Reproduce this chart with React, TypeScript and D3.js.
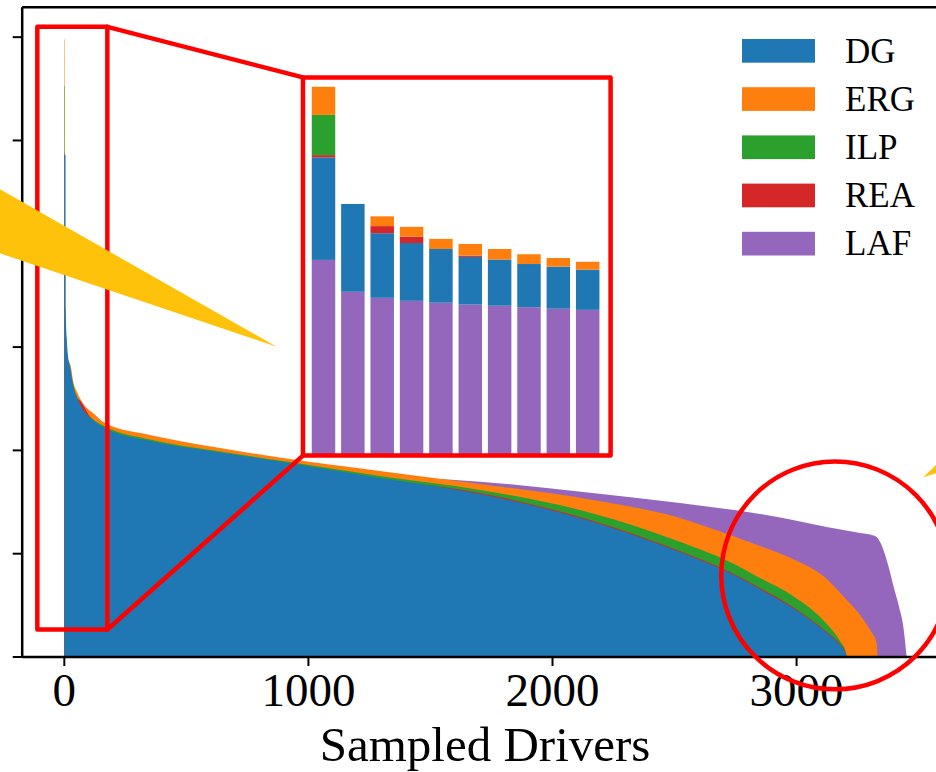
import React from "react";
import * as d3 from "d3";

// series, legend order
const seriesNames = ["DG", "ERG", "ILP", "REA", "LAF"];
const seriesColors = ["#1f77b4", "#ff7f0e", "#2ca02c", "#d62728", "#9467bd"];

// per-driver values sorted high to low, sampled as [driver index, value]
const dgCurve: [number, number][] = [
  [0, 4.86], [5, 4.86], [6, 3.38], [10, 3.09], [14, 2.94], [26, 2.78], [37, 2.61],
  [51, 2.52], [78, 2.39], [119, 2.29], [167, 2.217], [351, 2.091], [626, 1.985],
  [896, 1.888], [1293, 1.733], [1703, 1.578], [2154, 1.317], [2522, 1.016],
  [2727, 0.813], [2850, 0.658], [2985, 0.474], [3124, 0.232], [3178, 0.116],
  [3198, 0.048], [3205, 0],
];
const ergCurve: [number, number][] = [
  [0, 5.98], [2, 5.98], [3, 2.93], [26, 2.82], [37, 2.66], [51, 2.57], [78, 2.45],
  [119, 2.36], [167, 2.265], [351, 2.149], [626, 2.028], [896, 1.926], [1293, 1.801],
  [1703, 1.675], [2154, 1.525], [2522, 1.346], [2727, 1.181], [2850, 1.075],
  [2985, 0.949], [3124, 0.755], [3190, 0.591], [3260, 0.407], [3301, 0.261],
  [3328, 0.136], [3332, 0],
];
const ilpCurve: [number, number][] = [
  [0, 5.53], [2, 5.53], [3, 2.9], [23, 2.76], [51, 2.52], [78, 2.4], [119, 2.3],
  [167, 2.231], [351, 2.105], [626, 1.994], [896, 1.897], [1293, 1.752], [1703, 1.617],
  [2154, 1.397], [2522, 1.116], [2727, 0.92], [2850, 0.765], [2985, 0.591],
  [3124, 0.319], [3178, 0.155], [3202, 0.048], [3206, 0],
];
const reaCurve: [number, number][] = [
  [0, 4.88], [2, 4.88], [3, 2.49], [51, 2.5], [119, 2.28], [167, 2.21], [351, 2.062],
  [896, 1.868], [1293, 1.723], [1703, 1.588], [2154, 1.326], [2522, 1.026],
  [2727, 0.823], [2850, 0.668], [2985, 0.484], [3124, 0.242], [3178, 0.126],
  [3198, 0.058], [3206, 0],
];
const lafCurve: [number, number][] = [
  [0, 2.05], [351, 1.985], [761, 1.888], [1089, 1.815], [1470, 1.733], [1703, 1.697],
  [2154, 1.591], [2522, 1.491], [2850, 1.384], [2985, 1.326], [3123, 1.258],
  [3260, 1.2], [3321, 1.171], [3342, 1.113], [3375, 0.891], [3399, 0.668],
  [3420, 0.484], [3438, 0.281], [3451, 0],
];
const curves = [dgCurve, ergCurve, ilpCurve, reaCurve, lafCurve];

const xTicks = [0, 1000, 2000, 3000];
const yTicks = [0, 1, 2, 3, 4, 5, 6];

// inset: first ten drivers, stacked
const insetDrivers = [0, 1, 2, 3, 4, 5, 6, 7, 8, 9];
const insetLAF = [5.21, 4.36, 4.2, 4.12, 4.07, 4.02, 3.99, 3.95, 3.91, 3.88];
const insetDG = [2.73, 2.34, 1.72, 1.54, 1.43, 1.27, 1.23, 1.15, 1.12, 1.07];
const insetREA = [0.06, 0, 0.19, 0.17, 0, 0.035, 0, 0, 0, 0];
const insetILP = [1.07, 0, 0, 0, 0, 0, 0, 0, 0, 0];
const insetERG = [0.75, 0, 0.26, 0.26, 0.27, 0.31, 0.28, 0.26, 0.23, 0.21];

const W = 936;
const H = 772;
const plot = { left: 22.2, right: 948.8, top: 7.2, bottom: 657 };
const font = "'Liberation Serif', 'DejaVu Serif', serif";
const red = "#ff0000";
const gold = "#ffc20a";

const App = () => {
  const x = d3.scaleLinear().domain([-172.6, 3623.6]).range([plot.left, plot.right]);
  const y = d3.scaleLinear().domain([0, 6.29]).range([plot.bottom, plot.top]);

  const area = d3
    .area<[number, number]>()
    .x((d) => x(d[0]))
    .y0(y(0))
    .y1((d) => y(d[1]))
    .curve(d3.curveMonotoneX);

  // draw back to front: the biggest series sits behind
  const drawOrder = [4, 1, 2, 3, 0];

  // zoom box in data coords, inset box in axes fraction
  const zoomBox = { x0: -110.6, x1: 176.2, y0: 0.266, y1: 6.1 };
  const pw = plot.right - plot.left;
  const ph = plot.bottom - plot.top;
  const inset = {
    left: plot.left + 0.303 * pw,
    right: plot.left + 0.635 * pw,
    top: plot.bottom - 0.892 * ph,
    bottom: plot.bottom - 0.31 * ph,
  };
  const zx0 = x(zoomBox.x0), zx1 = x(zoomBox.x1);
  const zy0 = y(zoomBox.y0), zy1 = y(zoomBox.y1);

  const xi = d3.scaleLinear().domain([-0.7, 9.78]).range([inset.left, inset.right]);
  const yi = d3.scaleLinear().domain([0, 10.07]).range([inset.bottom, inset.top]);
  const insetRows = insetDrivers.map((d, i) => ({
    d,
    LAF: insetLAF[i],
    DG: insetDG[i],
    REA: insetREA[i],
    ILP: insetILP[i],
    ERG: insetERG[i],
  }));
  const stackKeys = ["LAF", "DG", "REA", "ILP", "ERG"];
  const stacked = d3.stack<any>().keys(stackKeys)(insetRows);
  const barW = xi(0.8) - xi(0);

  // circle around the tail
  const circ = { cx: x(3158), cy: y(0.79), r: 113.9 };

  return (
    <svg
      width={W}
      height={H}
      style={{ position: "absolute", left: 0, top: 0, background: "#fff" }}
      fontFamily={font}
    >
      <rect x={0} y={0} width={W} height={H} fill="#fff" />
      {drawOrder.map((k) => (
        <path key={seriesNames[k]} d={area(curves[k]) || ""} fill={seriesColors[k]} />
      ))}

      {/* axes */}
      <line x1={plot.left} x2={plot.left} y1={plot.top} y2={plot.bottom} stroke="#000" strokeWidth={2.5} />
      <line x1={plot.left} x2={plot.right} y1={plot.top} y2={plot.top} stroke="#000" strokeWidth={2.5} />
      <line x1={plot.left} x2={plot.right} y1={plot.bottom} y2={plot.bottom} stroke="#000" strokeWidth={2.5} />
      {yTicks.map((t) => (
        <line key={t} x1={plot.left - 9.5} x2={plot.left} y1={y(t)} y2={y(t)} stroke="#000" strokeWidth={2} />
      ))}
      {xTicks.map((t) => (
        <g key={t}>
          <line x1={x(t)} x2={x(t)} y1={plot.bottom} y2={plot.bottom + 9} stroke="#000" strokeWidth={2} />
          <text x={x(t)} y={706} textAnchor="middle" fontSize={47} fill="#000">
            {t}
          </text>
        </g>
      ))}
      <text x={(plot.left + W) / 2 + 6} y={761} textAnchor="middle" fontSize={49} fill="#000">
        Sampled Drivers
      </text>

      {/* zoom indicator */}
      <rect
        x={zx0}
        y={zy1}
        width={zx1 - zx0}
        height={zy0 - zy1}
        fill="none"
        stroke={red}
        strokeWidth={4.5}
        strokeLinejoin="round"
      />
      <line x1={zx1} y1={zy1} x2={inset.left} y2={inset.top} stroke={red} strokeWidth={4.5} strokeLinecap="round" />
      <line x1={zx1} y1={zy0} x2={inset.left} y2={inset.bottom} stroke={red} strokeWidth={4.5} strokeLinecap="round" />

      {/* inset */}
      <rect x={inset.left} y={inset.top} width={inset.right - inset.left} height={inset.bottom - inset.top} fill="#fff" />
      {stacked.map((layer) => {
        const c = seriesColors[seriesNames.indexOf(layer.key)];
        return (
          <g key={layer.key} fill={c}>
            {layer.map((s, i) =>
              s[1] - s[0] > 0 ? (
                <rect
                  key={i}
                  x={xi(insetDrivers[i]) - barW / 2}
                  y={yi(s[1])}
                  width={barW}
                  height={yi(s[0]) - yi(s[1])}
                />
              ) : null
            )}
          </g>
        );
      })}
      <rect
        x={inset.left}
        y={inset.top}
        width={inset.right - inset.left}
        height={inset.bottom - inset.top}
        fill="none"
        stroke={red}
        strokeWidth={4.5}
        strokeLinejoin="round"
      />

      <circle cx={circ.cx} cy={circ.cy} r={circ.r} fill="none" stroke={red} strokeWidth={4.5} />

      {/* arrows */}
      <polygon points="-20,178 276.7,346.7 -20,246.6" fill={gold} />
      <polygon points="923.3,477.3 950,451.5 950,469" fill={gold} />

      {/* legend */}
      {seriesNames.map((n, i) => (
        <g key={n} transform={`translate(742, ${39 + i * 48.2})`}>
          <rect x={0} y={0} width={73} height={23.7} fill={seriesColors[i]} />
          <text x={103} y={23.5} fontSize={35} fill="#000">
            {n}
          </text>
        </g>
      ))}
    </svg>
  );
};

export default App;
